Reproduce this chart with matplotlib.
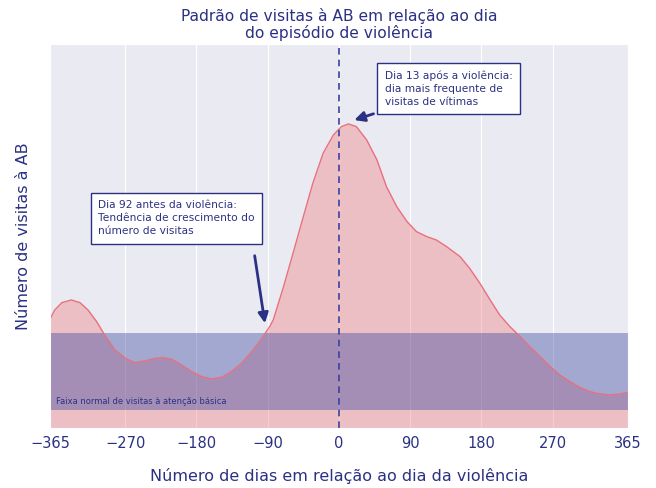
import matplotlib
matplotlib.use("Agg")
import matplotlib.pyplot as plt
import seaborn as sns

# dias relativos ao episódio de violência e nível (unidades arbitrárias) da curva
days = [-365, -359, -350, -338, -327, -317, -306, -296, -283, -270, -258, -245,
        -232, -222, -211, -199, -186, -173, -161, -148, -136, -123, -110, -98,
        -87, -83, -70, -58, -45, -33, -20, -7, 3, 12, 22, 35, 48, 60, 73, 86,
        98, 111, 123, 136, 153, 165, 178, 191, 203, 216, 229, 241, 254, 267,
        279, 292, 304, 317, 330, 342, 355, 365]
visits = [1.087, 1.18, 1.253, 1.28, 1.253, 1.18, 1.063, 0.93, 0.78, 0.697, 0.653, 0.67,
          0.697, 0.703, 0.687, 0.63, 0.563, 0.513, 0.49, 0.507, 0.563, 0.647, 0.763, 0.89,
          1.02, 1.08, 1.413, 1.747, 2.113, 2.447, 2.747, 2.93, 3.013, 3.04, 3.013, 2.88,
          2.68, 2.413, 2.213, 2.063, 1.963, 1.913, 1.88, 1.813, 1.713, 1.597, 1.447, 1.28,
          1.13, 1.013, 0.913, 0.813, 0.713, 0.613, 0.53, 0.463, 0.407, 0.363, 0.34, 0.33,
          0.34, 0.357]
band_low, band_high = 0.18, 0.95
xticks = [-365, -270, -180, -90, 0, 90, 180, 270, 365]

NAVY = "#2b3182"

sns.set_style("darkgrid")
plt.rcParams["font.family"] = ["DejaVu Sans"]

fig = plt.figure(figsize=(6.56, 4.88), dpi=100)
ax = fig.add_axes([0.0762, 0.123, 0.881, 0.787])

ax.fill_between(days, visits, 0, color="lightcoral", alpha=0.4, linewidth=0)
ax.plot(days, visits, color="#e8707c", linewidth=1.0)
ax.axhspan(band_low, band_high, color="#3a45a0", alpha=0.4, linewidth=0)
ax.axvline(0, color="#3a40a0", linestyle=(0, (4, 3)), linewidth=1.2)

ax.text(-357, 0.24, "Faixa normal de visitas à atenção básica",
        fontsize=6, color=NAVY)

box = dict(boxstyle="square,pad=0.7", facecolor="white", edgecolor=NAVY, linewidth=1)
arrow = dict(arrowstyle="-|>,head_length=0.6,head_width=0.3", color=NAVY, linewidth=2)

ax.text(58, 3.577, "Dia 13 após a violência:\ndia mais frequente de\nvisitas de vítimas",
        fontsize=7.7, color=NAVY, va="top", ha="left", bbox=box, linespacing=1.38)
ax.annotate("", xy=(16, 3.07), xytext=(47, 3.15), arrowprops=arrow)

ax.text(-304, 2.277, "Dia 92 antes da violência:\nTendência de crescimento do\nnúmero de visitas",
        fontsize=7.7, color=NAVY, va="top", ha="left", bbox=box, linespacing=1.38)
ax.annotate("", xy=(-93, 1.02), xytext=(-107, 1.75), arrowprops=arrow)

ax.set_xlim(-365, 365)
ax.set_ylim(0, 3.84)
ax.set_xticks(xticks)
ax.set_xticklabels([str(t).replace("-", "\u2212") for t in xticks],
                   fontsize=10.5, color=NAVY)
ax.set_yticks([])
ax.grid(axis="y", visible=False)
ax.tick_params(axis="x", length=0, pad=6)
ax.set_xlabel("Número de dias em relação ao dia da violência",
              fontsize=11.5, color=NAVY, labelpad=12)
ax.set_ylabel("Número de visitas à AB", fontsize=11.5, color=NAVY, labelpad=14)
ax.set_title("Padrão de visitas à AB em relação ao dia\ndo episódio de violência",
             fontsize=11.2, color=NAVY, pad=4, linespacing=1.1)

fig.savefig("out.png", dpi=100)
